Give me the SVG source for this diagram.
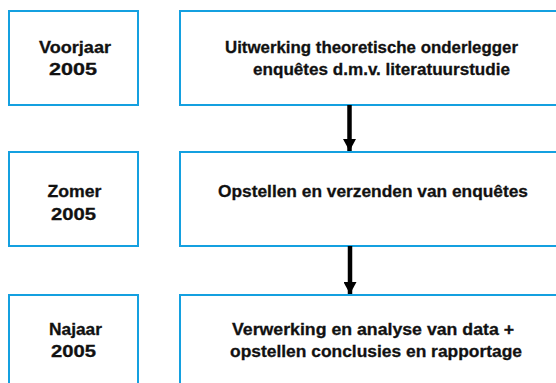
<svg xmlns="http://www.w3.org/2000/svg" width="556" height="383" viewBox="0 0 556 383">
<style>
.box{fill:#fff;stroke:#14a0e0;stroke-width:2}
.t{font-family:"Liberation Sans",Arial,sans-serif;font-weight:bold;font-size:17px;fill:#111;stroke:#111;stroke-width:0.3}
.m{text-anchor:middle}
.c{stroke:#000;stroke-width:4.5;fill:none}
</style>
<defs>
<marker id="ah" markerUnits="userSpaceOnUse" markerWidth="13" markerHeight="13" refX="12" refY="6.5" orient="auto" viewBox="0 0 13 13">
<path d="M0,0 L12,6.5 L0,13 Z" fill="#000"/>
</marker>
</defs>
<rect width="556" height="383" fill="#fff"/>
<g id="n1a"><rect class="box" x="9" y="11" width="129" height="94"/>
<text class="t m" x="75" y="52.7" textLength="72" lengthAdjust="spacingAndGlyphs">Voorjaar</text>
<text class="t m" x="73" y="75" textLength="48" lengthAdjust="spacingAndGlyphs">2005</text></g>
<g id="n1b"><rect class="box" x="180" y="11" width="390" height="94"/>
<text class="t" x="225" y="52.7" textLength="293" lengthAdjust="spacingAndGlyphs">Uitwerking theoretische onderlegger</text>
<text class="t" x="253" y="75" textLength="257" lengthAdjust="spacingAndGlyphs">enquêtes d.m.v. literatuurstudie</text></g>
<g id="n2a"><rect class="box" x="9" y="152" width="129" height="94"/>
<text class="t m" x="74.5" y="197" textLength="54" lengthAdjust="spacingAndGlyphs">Zomer</text>
<text class="t m" x="73.5" y="220" textLength="45" lengthAdjust="spacingAndGlyphs">2005</text></g>
<g id="n2b"><rect class="box" x="180" y="152" width="390" height="94"/>
<text class="t" x="218" y="197" textLength="310" lengthAdjust="spacingAndGlyphs">Opstellen en verzenden van enquêtes</text></g>
<g id="n3a"><rect class="box" x="9" y="295" width="129" height="100"/>
<text class="t m" x="75.5" y="334.5" textLength="53" lengthAdjust="spacingAndGlyphs">Najaar</text>
<text class="t m" x="73.5" y="357" textLength="45" lengthAdjust="spacingAndGlyphs">2005</text></g>
<g id="n3b"><rect class="box" x="180" y="295" width="390" height="100"/>
<text class="t" x="232" y="334.5" textLength="282" lengthAdjust="spacingAndGlyphs">Verwerking en analyse van data +</text>
<text class="t" x="230" y="357" textLength="292" lengthAdjust="spacingAndGlyphs">opstellen conclusies en rapportage</text></g>
<g id="connectors">
<line class="c" x1="349.5" y1="105" x2="349.5" y2="151" marker-end="url(#ah)"/>
<line class="c" x1="350" y1="246" x2="350" y2="294" marker-end="url(#ah)"/>
</g>
</svg>
